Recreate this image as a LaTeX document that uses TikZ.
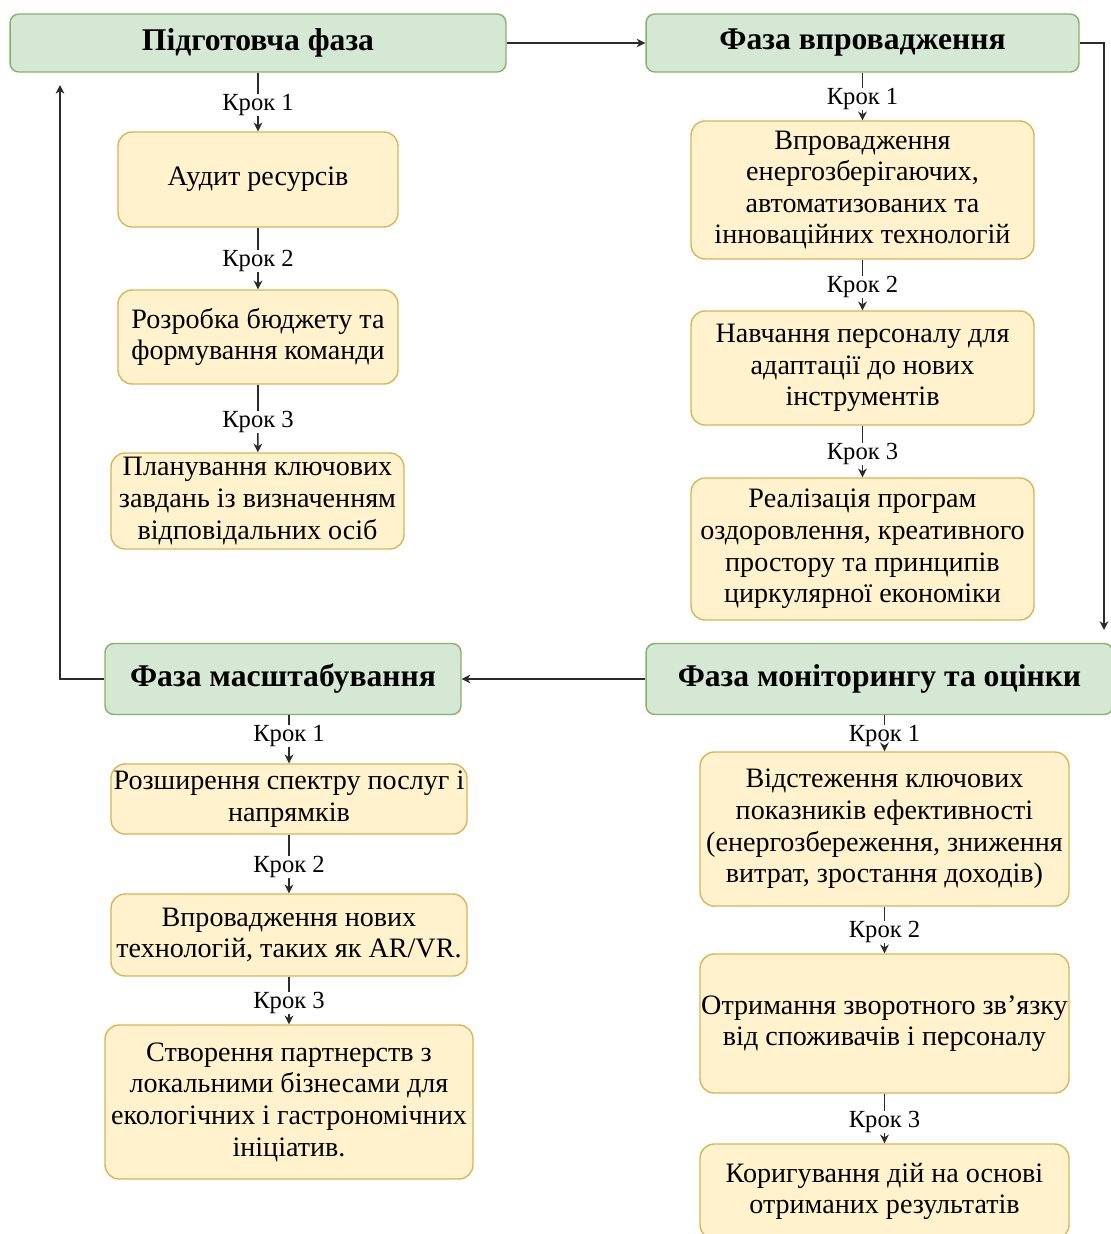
\documentclass[tikz,border=0pt]{standalone}
\usepackage{fontspec}
\setmainfont{Liberation Serif}
\usetikzlibrary{arrows.meta}
\definecolor{phasefill}{HTML}{D5E8D4}
\definecolor{phasedraw}{HTML}{82B366}
\definecolor{stepfill}{HTML}{FFF2CC}
\definecolor{stepdraw}{HTML}{D6B656}
\definecolor{linecol}{HTML}{2B2B2B}

\begin{document}
\begin{tikzpicture}[x=0.02cm, y=-0.02cm]
\tikzstyle{phase}=[rectangle, rounded corners=5pt, draw=phasedraw, fill=phasefill, line width=0.8pt, inner sep=2pt, font=\fontsize{18}{20}\selectfont\bfseries]
\tikzstyle{stepbox}=[rectangle, rounded corners=8pt, draw=stepdraw, fill=stepfill, line width=0.8pt, inner xsep=0.5pt, inner ysep=2pt, align=center, font=\fontsize{16}{18}\selectfont]
\tikzstyle{steplabel}=[inner sep=0pt, font=\fontsize{14}{16}\selectfont]
\tikzstyle{drawstyle}=[line width=0.8pt, draw=linecol, -{Stealth[length=5pt,width=5pt]}]
\tikzstyle{linestyle}=[line width=0.8pt, draw=linecol]

\useasboundingbox (0,0) rectangle (1111,1234);

% phases
\node[phase, minimum width=9.92cm, minimum height=1.16cm] (F0) at (258,43) {Підготовча фаза};
\node[phase, minimum width=8.66cm, minimum height=1.16cm] (F1) at (862.5,43) {Фаза впровадження};
\node[phase, minimum width=9.34cm, minimum height=1.42cm] (F2) at (879.5,679) {Фаза моніторингу та оцінки};
\node[phase, minimum width=7.12cm, minimum height=1.42cm] (F3) at (283,679) {Фаза масштабування};

% phase 0 steps
\node[stepbox, minimum width=5.6cm, minimum height=1.9cm] (F0x1) at (258,179.5) {Аудит ресурсів};
\node[stepbox, minimum width=5.6cm, minimum height=1.88cm] (F0x2) at (258,337) {Розробка бюджету та\\формування команди};
\node[stepbox, minimum width=5.86cm, minimum height=1.92cm] (F0x3) at (257.5,501) {Планування ключових\\завдань із визначенням\\відповідальних осіб};
\node[steplabel] (K0x1) at (258,105) {Крок 1};
\node[steplabel] (K0x2) at (258,261) {Крок 2};
\node[steplabel] (K0x3) at (258,422) {Крок 3};
\draw[linestyle] (F0) -- (K0x1);
\draw[drawstyle] (K0x1) -- (F0x1);
\draw[linestyle] (F0x1) -- (K0x2);
\draw[drawstyle] (K0x2) -- (F0x2);
\draw[linestyle] (F0x2) -- (K0x3);
\draw[drawstyle] (K0x3) -- (F0x3);

% phase 1 steps
\node[stepbox, minimum width=6.86cm, minimum height=2.76cm] (F1x1) at (862.5,190) {Впровадження\\енергозберігаючих,\\автоматизованих та\\інноваційних технологій};
\node[stepbox, minimum width=6.86cm, minimum height=2.28cm] (F1x2) at (862.5,368) {Навчання персоналу для\\адаптації до нових\\інструментів};
\node[stepbox, minimum width=6.86cm, minimum height=2.84cm] (F1x3) at (862.5,549) {Реалізація програм\\оздоровлення, креативного\\простору та принципів\\циркулярної економіки};
\node[steplabel] (K1x1) at (862.5,99) {Крок 1};
\node[steplabel] (K1x2) at (862.5,287) {Крок 2};
\node[steplabel] (K1x3) at (862.5,454) {Крок 3};
\draw[linestyle] (F1) -- (K1x1);
\draw[drawstyle] (K1x1) -- (F1x1);
\draw[linestyle] (F1x1) -- (K1x2);
\draw[drawstyle] (K1x2) -- (F1x2);
\draw[linestyle] (F1x2) -- (K1x3);
\draw[drawstyle] (K1x3) -- (F1x3);

% phase 2 steps
\node[stepbox, minimum width=7.38cm, minimum height=3.08cm] (F2x1) at (884.5,829) {Відстеження ключових\\показників ефективності\\(енергозбереження, зниження\\витрат, зростання доходів)};
\node[stepbox, minimum width=7.38cm, minimum height=2.78cm] (F2x2) at (884.5,1023.5) {Отримання зворотного зв’язку\\від споживачів і персоналу};
\node[stepbox, minimum width=7.38cm, minimum height=1.9cm] (F2x3) at (884.5,1191.5) {Коригування дій на основі\\отриманих результатів};
\node[steplabel] (K2x1) at (884.5,736) {Крок 1};
\node[steplabel] (K2x2) at (884.5,932) {Крок 2};
\node[steplabel] (K2x3) at (884.5,1122) {Крок 3};
\draw[linestyle] (F2.south -| K2x1) -- (K2x1);
\draw[drawstyle] (K2x1) -- (F2x1);
\draw[linestyle] (F2x1) -- (K2x2);
\draw[drawstyle] (K2x2) -- (F2x2);
\draw[linestyle] (F2x2) -- (K2x3);
\draw[drawstyle] (K2x3) -- (F2x3);

% phase 3 steps
\node[stepbox, minimum width=7.12cm, minimum height=1.4cm] (F3x1) at (289,799) {Розширення спектру послуг і\\напрямків};
\node[stepbox, minimum width=7.12cm, minimum height=1.64cm] (F3x2) at (289,935) {Впровадження нових\\технологій, таких як AR/VR.};
\node[stepbox, minimum width=7.36cm, minimum height=3.08cm] (F3x3) at (289,1102) {Створення партнерств з\\локальними бізнесами для\\екологічних і гастрономічних\\ініціатив.};
\node[steplabel] (K3x1) at (289,736) {Крок 1};
\node[steplabel] (K3x2) at (289,867) {Крок 2};
\node[steplabel] (K3x3) at (289,1003) {Крок 3};
\draw[linestyle] (F3.south -| K3x1) -- (K3x1);
\draw[drawstyle] (K3x1) -- (F3x1);
\draw[linestyle] (F3x1) -- (K3x2);
\draw[drawstyle] (K3x2) -- (F3x2);
\draw[linestyle] (F3x2) -- (K3x3);
\draw[drawstyle] (K3x3) -- (F3x3);

% cycle between phases
\coordinate (E1) at (1104,630);
\coordinate (E3) at (60,85);
\draw[drawstyle] (F0) -- (F1);
\draw[drawstyle] (F1.east) -| (E1);
\draw[drawstyle] (F2) -- (F3);
\draw[drawstyle] (F3.west) -| (E3);
\end{tikzpicture}
\end{document}
